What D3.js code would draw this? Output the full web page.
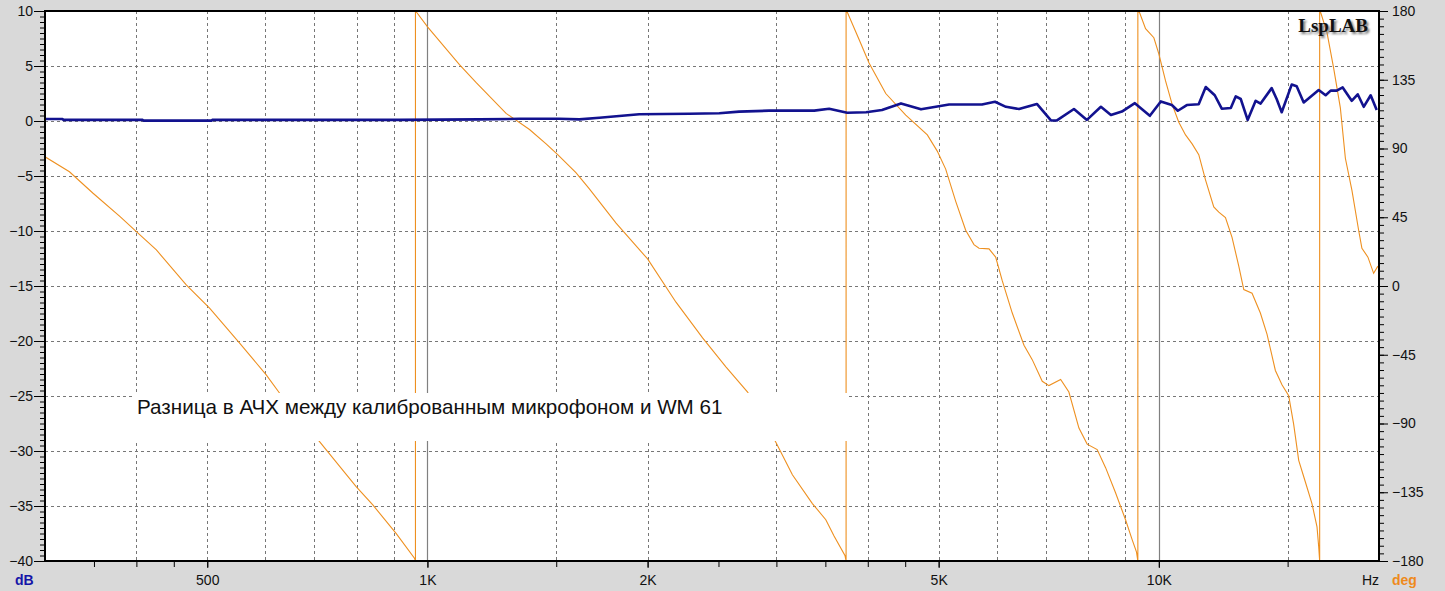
<!DOCTYPE html>
<html><head><meta charset="utf-8">
<script src="https://cdn.jsdelivr.net/npm/d3@7"></script>
<style>
html,body{margin:0;padding:0;background:#d9d9d9;}
svg{display:block;}
text{font-family:"Liberation Sans",Arial,sans-serif;}
</style></head><body>
<svg id="chart" width="1445" height="591"></svg>
<script>
// ---- data ----
const magFreq = [300,317,318,408,409,507,508,669,916,1178,1336,1515,1613,1718,1829,1948,2280,2506,2668,2933,3379,3542,3749,3979,4183,4441,4730,5167,5731,5970,6180,6439,6812,7120,7256,7655,7974,8333,8600,8902,9273,9721,10063,10418,10617,10921,11337,11592,11925,12191,12543,12742,12942,13226,13564,13778,14265,14491,14723,15193,15434,15779,16542,16907,17179,17507,17840,18353,18703,19060,19483,19856];
const magDb = [0.18,0.18,0.1,0.1,0.03,0.03,0.1,0.1,0.1,0.15,0.2,0.2,0.15,0.3,0.45,0.62,0.66,0.7,0.85,0.94,0.94,1.12,0.75,0.8,1.0,1.6,1.06,1.5,1.5,1.75,1.29,1.09,1.55,0.05,0.05,1.09,0.1,1.29,0.54,0.86,1.62,0.47,1.78,1.45,0.93,1.45,1.52,3.09,2.34,1.12,1.18,2.24,2.0,0.1,1.84,1.58,2.99,2.0,0.8,3.31,3.15,1.68,2.82,2.34,2.76,2.76,3.05,1.84,2.43,1.29,2.34,1.0];

const phaseFreq = [300,324,349,380,400,426,468,504,554,602,628,712,799,842,906,960,963,963,967,
  1001,1106,1166,1281,1379,1453,1507,1596,1665,1811,2000,2187,2378,2559,2740,2996,3155,3360,3505,3597,3724,3736,3736,3752,
  3892,4016,4233,4508,4825,4978,5112,5276,5444,5588,5677,5859,5983,6108,6304,6541,6713,6928,7075,7341,7534,7776,7980,8236,8457,8726,9005,9194,9322,9361,9361,9411,
  9591,9845,10000,10214,10428,10649,10877,11105,11340,11583,11888,12078,12334,12592,12862,13066,13411,13767,14060,14433,14736,15051,15289,15533,15862,16195,16454,16542,16592,16592,16645,
  16978,17341,17709,17991,18369,18758,18953,19315,19665,19930];
const phaseDeg = [84.6,74.8,60.7,45.4,35.6,23.6,0.7,-14.6,-37.5,-58.2,-70.2,-101.9,-131.3,-143.3,-161.9,-178.2,-180,180,179,
  169.5,144.9,133.1,113.0,102.4,93.0,86.0,74.2,63.6,41.2,17.7,-10.6,-34.0,-52.9,-69.4,-102.4,-123.6,-142.4,-153.0,-163.6,-176.6,-180,180,179,
  161.3,146.0,126.0,111.9,98.9,88.3,76.5,55.4,36.5,27.1,24.7,24.3,18.9,3.5,-17.7,-38.8,-48.2,-62.4,-65.2,-61.2,-69.4,-93.0,-103.5,-107.1,-118.9,-135.3,-153.0,-166.0,-174.2,-180,180,179,
  168.4,162.5,151.9,134.2,118.9,107.2,98.9,93.0,86.0,69.5,51.8,48.3,44.8,31.8,13.0,-2.3,-4.7,-17.7,-31.7,-55.3,-64.7,-71.8,-90.6,-114.1,-128.3,-142.4,-157.7,-170.7,-180,180,179,
  166,142.5,116.6,83.6,62.4,36.5,24.7,18.9,8.3,13.0];

const xTickValues = [350,400,450,500,1000,1500,2000,2500,3000,3500,4000,4500,5000,10000,15000];
const xTickLabels = {500:"500",1000:"1K",2000:"2K",5000:"5K",10000:"10K"};
const xGridDashed = [400,500,600,700,800,900,1500,2000,3000,4000,5000,6000,7000,8000,9000,15000];
const xGridSolid = [1000,10000];
const dbTicks = [10,5,0,-5,-10,-15,-20,-25,-30,-35,-40];
const degTicks = [180,135,90,45,0,-45,-90,-135,-180];
const noteText = "Разница в АЧХ между калиброванным микрофоном и WM 61";
const logoText = "LspLAB";
const unitDb = "dB", unitHz = "Hz", unitDeg = "deg";

// ---- layout ----
const L = 45, R = 1379, T = 11, B = 561;
const svg = d3.select("#chart");
const x = d3.scaleLog().domain([300, 20000]).range([L, R]);
const yDb = d3.scaleLinear().domain([-40, 10]).range([B, T]);
const yDeg = d3.scaleLinear().domain([-180, 180]).range([B, T]);

svg.append("rect").attr("width", 1445).attr("height", 591).attr("fill", "#d9d9d9");
svg.append("rect").attr("x", L).attr("y", T).attr("width", R - L).attr("height", B - T).attr("fill", "#fff");

svg.append("defs").append("clipPath").attr("id", "clip")
  .append("rect").attr("x", L).attr("y", T).attr("width", R - L).attr("height", B - T);

const grid = svg.append("g");
grid.selectAll(".hg").data(dbTicks.filter(d => d > -40 && d < 10)).enter().append("line")
  .attr("x1", L).attr("x2", R).attr("y1", d => yDb(d) + 0.5).attr("y2", d => yDb(d) + 0.5)
  .attr("stroke", "#777").attr("stroke-width", 1).attr("stroke-dasharray", "3,3");
grid.selectAll(".vg").data(xGridDashed).enter().append("line")
  .attr("x1", d => Math.round(x(d)) + 0.5).attr("x2", d => Math.round(x(d)) + 0.5).attr("y1", T).attr("y2", B)
  .attr("stroke", "#777").attr("stroke-width", 1).attr("stroke-dasharray", "3,3");
grid.selectAll(".vs").data(xGridSolid).enter().append("line")
  .attr("x1", d => Math.round(x(d)) + 0.5).attr("x2", d => Math.round(x(d)) + 0.5).attr("y1", T).attr("y2", B)
  .attr("stroke", "#808080").attr("stroke-width", 1.2);

const plot = svg.append("g").attr("clip-path", "url(#clip)");
const phaseLine = d3.line().x((d, i) => x(phaseFreq[i])).y((d, i) => yDeg(phaseDeg[i]));
plot.append("path").datum(phaseFreq).attr("d", phaseLine)
  .attr("fill", "none").attr("stroke", "#ee9020").attr("stroke-width", 1.1);
const magLine = d3.line().x((d, i) => x(magFreq[i])).y((d, i) => yDb(magDb[i]));
plot.append("path").datum(magFreq).attr("d", magLine)
  .attr("fill", "none").attr("stroke", "#12128f").attr("stroke-width", 2.6).attr("stroke-linejoin", "round");

// note box
svg.append("rect").attr("x", 135).attr("y", 393).attr("width", 712).attr("height", 48).attr("fill", "#fff");
const note = svg.append("text").attr("x", 137).attr("y", 414).attr("fill", "#111")
  .style("font-size", "20px").text(noteText);
const nw = note.node().getComputedTextLength();
note.style("font-size", (20 * 586 / nw).toFixed(2) + "px");

// logo
const defs = svg.select("defs");
defs.append("filter").attr("id", "blur").append("feGaussianBlur").attr("stdDeviation", 1);
svg.append("text").attr("x", 1370).attr("y", 34).attr("text-anchor", "end")
  .style("font-family", "'Liberation Serif','DejaVu Serif',serif").style("font-weight", "bold").style("font-size", "19px")
  .attr("fill", "#777").attr("filter", "url(#blur)").text(logoText);
svg.append("text").attr("x", 1368).attr("y", 32).attr("text-anchor", "end")
  .style("font-family", "'Liberation Serif','DejaVu Serif',serif").style("font-weight", "bold").style("font-size", "19px")
  .attr("fill", "#111").text(logoText);

// axes
function styleAxis(g) {
  g.select(".domain").remove();
  g.selectAll("line").attr("stroke", "#000");
  g.selectAll("text").attr("fill", "#111").style("font-size", "14px").style("font-family", "'Liberation Sans',Arial,sans-serif");
}
// left
svg.append("g").attr("transform", `translate(${L},0)`)
  .call(d3.axisLeft(yDb).tickValues(d3.range(-40, 10.01, 0.5)).tickSize(5).tickFormat("")).call(styleAxis);
svg.append("g").attr("transform", `translate(${L},0)`)
  .call(d3.axisLeft(yDb).tickValues(dbTicks).tickSize(11).tickPadding(1).tickFormat(d3.format("d"))).call(styleAxis);
// right
svg.append("g").attr("transform", `translate(${R},0)`)
  .call(d3.axisRight(yDeg).tickValues(d3.range(-180, 180.01, 5)).tickSize(5).tickFormat("")).call(styleAxis);
svg.append("g").attr("transform", `translate(${R},0)`)
  .call(d3.axisRight(yDeg).tickValues(degTicks).tickSize(9).tickPadding(4).tickFormat(d3.format("d"))).call(styleAxis);
// bottom
svg.append("g").attr("transform", `translate(0,${B})`)
  .call(d3.axisBottom(x).tickValues(xTickValues).tickSize(6).tickFormat("")).call(styleAxis);
svg.append("g").attr("transform", `translate(0,${B})`)
  .call(d3.axisBottom(x).tickValues(Object.keys(xTickLabels).map(Number)).tickSize(7).tickPadding(7).tickFormat(d => xTickLabels[d])).call(styleAxis);

// frame
svg.append("rect").attr("x", L).attr("y", T).attr("width", R - L).attr("height", B - T)
  .attr("fill", "none").attr("stroke", "#000").attr("stroke-width", 2);

// unit labels
svg.append("text").attr("x", 15).attr("y", 585).attr("fill", "#1515a8").style("font-weight", "bold").style("font-size", "14px").text(unitDb);
svg.append("text").attr("x", 1362).attr("y", 585).attr("fill", "#111").style("font-size", "14px").text(unitHz);
svg.append("text").attr("x", 1392).attr("y", 585).attr("fill", "#ee8a1c").style("font-weight", "bold").style("font-size", "14px").text(unitDeg);
</script>
</body></html>
